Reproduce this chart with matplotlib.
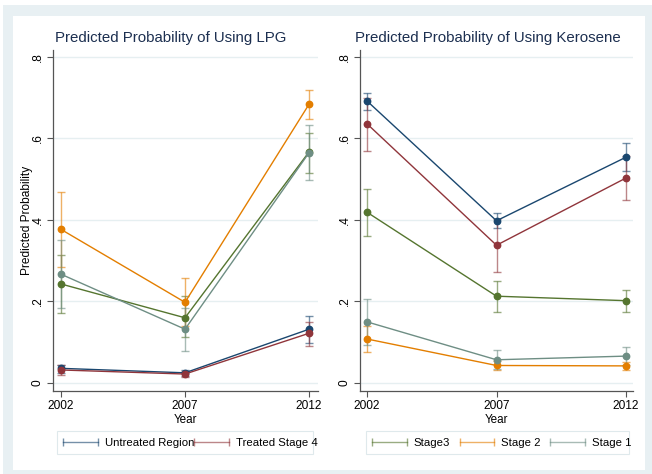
import matplotlib
matplotlib.use("Agg")
from matplotlib import pyplot as plt
from matplotlib.lines import Line2D
from matplotlib.patches import Rectangle
from matplotlib.legend_handler import HandlerLine2D

plt.rcParams['font.family'] = ['Liberation Sans', 'DejaVu Sans']

# donnees
years = [2002, 2007, 2012]
names = ["Untreated Region", "Treated Stage 4", "Stage3", "Stage 2", "Stage 1"]
colors = ["#1a476f", "#90353b", "#55752f", "#e37e00", "#6e8e84"]

lpg_est = [[0.036, 0.025, 0.132], [0.032, 0.022, 0.122], [0.243, 0.160, 0.567],
           [0.377, 0.198, 0.684], [0.267, 0.132, 0.565]]
lpg_lo = [[0.025, 0.018, 0.098], [0.020, 0.014, 0.092], [0.171, 0.112, 0.515],
          [0.284, 0.140, 0.647], [0.184, 0.079, 0.498]]
lpg_hi = [[0.045, 0.031, 0.164], [0.045, 0.030, 0.150], [0.314, 0.213, 0.614],
          [0.469, 0.258, 0.719], [0.351, 0.184, 0.633]]

ker_est = [[0.692, 0.398, 0.554], [0.636, 0.338, 0.503], [0.419, 0.213, 0.202],
           [0.108, 0.043, 0.042], [0.150, 0.057, 0.066]]
ker_lo = [[0.670, 0.380, 0.519], [0.569, 0.273, 0.449], [0.361, 0.175, 0.175],
          [0.077, 0.033, 0.032], [0.094, 0.035, 0.045]]
ker_hi = [[0.711, 0.416, 0.590], [0.700, 0.402, 0.556], [0.475, 0.250, 0.229],
          [0.139, 0.053, 0.052], [0.205, 0.081, 0.089]]

yticks = [0, 0.2, 0.4, 0.6, 0.8]
ytick_labels = ["0", ".2", ".4", ".6", ".8"]

W, H = 652, 474
fig = plt.figure(figsize=(W / 100, H / 100), dpi=100)


def fig_rect(x0, y0, x1, y1, **kw):
    # rectangle en pixels (origine en haut a gauche)
    fig.patches.append(Rectangle((x0 / W, 1 - y1 / H), (x1 - x0) / W, (y1 - y0) / H,
                                 transform=fig.transFigure, **kw))


# fond style Stata
fig_rect(3, 5, 652, 474, facecolor="#e8f0f3", edgecolor="none", zorder=-2)
fig_rect(13, 16, 645, 470, facecolor="white", edgecolor="none", zorder=-1)
# cadres des legendes
fig_rect(57, 431, 313, 454, facecolor="none", edgecolor="#dfe9ec", lw=0.8, zorder=1)
fig_rect(366, 431, 629, 454, facecolor="none", edgecolor="#dfe9ec", lw=0.8, zorder=1)


def panel(rect, est, lo, hi, xlim):
    ax = fig.add_axes(rect)
    ax.set_facecolor("white")
    for i in range(len(names)):
        yerr = [[e - l for e, l in zip(est[i], lo[i])],
                [h - e for e, h in zip(est[i], hi[i])]]
        ax.errorbar(years, est[i], yerr=yerr, fmt="none", ecolor=colors[i],
                    alpha=0.6, elinewidth=1.0, capsize=2.6, capthick=1.0, zorder=2)
    for i in range(len(names)):
        ax.plot(years, est[i], color=colors[i], lw=1.0, marker="o",
                markersize=4.6, zorder=3)
    ax.set_xlim(*xlim)
    ax.set_ylim(-0.0196, 0.817)
    ax.set_xticks(years)
    ax.set_xticklabels([str(y) for y in years], fontsize=8.6)
    ax.set_yticks(yticks)
    ax.set_yticklabels(ytick_labels, rotation=90, va="center", fontsize=8.6)
    ax.grid(axis="y", color="#e6eff1", lw=1.0, zorder=0)
    ax.set_axisbelow(True)
    for s in ["top", "right"]:
        ax.spines[s].set_visible(False)
    for s in ["left", "bottom"]:
        ax.spines[s].set_color("#555555")
        ax.spines[s].set_linewidth(0.9)
    ax.tick_params(colors="#555555", labelcolor="black", length=4, width=0.8, pad=2.5)
    ax.set_xlabel("Year", fontsize=8.4, labelpad=1.5)
    return ax


ax1 = panel([53 / W, 1 - 391 / H, 265 / W, 341 / H], lpg_est, lpg_lo, lpg_hi,
            (2001.68, 2012.36))
ax2 = panel([360 / W, 1 - 391 / H, 273 / W, 341 / H], ker_est, ker_lo, ker_hi,
            (2001.73, 2012.27))

ax1.set_ylabel("Predicted Probability", fontsize=8.6)
ax1.yaxis.set_label_coords(-0.075, 0.5)

fig.text(171 / W, 1 - 38 / H, "Predicted Probability of Using LPG",
         ha="center", va="center", fontsize=10.8, color="#1c2f50")
fig.text(488 / W, 1 - 38 / H, "Predicted Probability of Using Kerosene",
         ha="center", va="center", fontsize=10.8, color="#1c2f50")

# legendes avec symbole "rcap"
def handles(idx):
    return [Line2D([], [], color=colors[i], alpha=0.6, lw=1.0, marker="|",
                   markersize=6, markeredgewidth=1.0) for i in idx]


hmap = {Line2D: HandlerLine2D(numpoints=2, marker_pad=0)}
leg_kw = dict(loc="center left", fontsize=8.2, frameon=False,
              handlelength=3.05, handletextpad=0.6, borderpad=0,
              borderaxespad=0, handler_map=hmap)
fig.legend(handles([0, 1]), names[:2], ncol=2, columnspacing=0.0,
           bbox_to_anchor=(63 / W, 1 - 443 / H), **leg_kw)
fig.legend(handles([2, 3, 4]), names[2:], ncol=3, columnspacing=0.85,
           bbox_to_anchor=(372 / W, 1 - 443 / H), **leg_kw)

fig.savefig("out.png", dpi=100)
